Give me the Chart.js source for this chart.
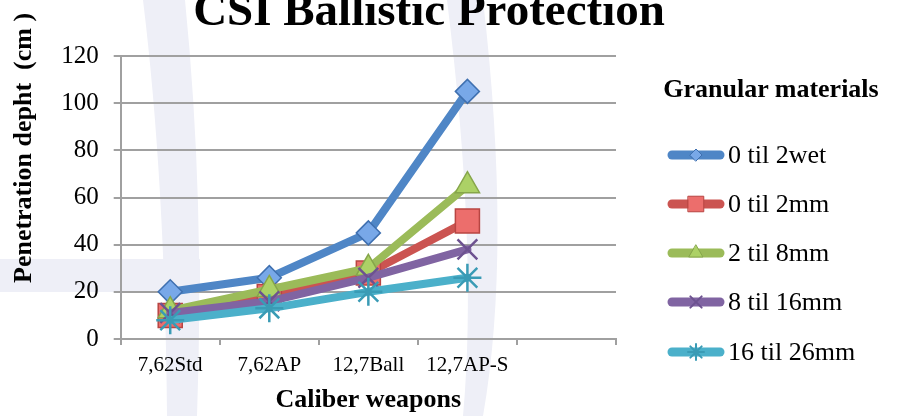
<!DOCTYPE html>
<html lang="en">
<head>
<meta charset="UTF-8">
<title>CSI Ballistic Protection</title>
<script src="https://cdn.jsdelivr.net/npm/chart.js"></script>
<style>
  body { margin: 0; background: #fff; }
  .wrap { position: relative; width: 898px; height: 416px; overflow: hidden; }
  #chart { position: absolute; left: 0; top: 0; }
  .lg-title { position: absolute; left: 640px; width: 262px; top: 74px; text-align: center;
    font: bold 26px "Liberation Serif", serif; color: #000; }
  .lg-item { position: absolute; left: 666px; height: 28px; display: flex; align-items: center;
    font: 26px "Liberation Serif", serif; color: #000; white-space: nowrap; }
  .lg-item canvas { margin-right: 2px; }
</style>
</head>
<body>
<div class="wrap">
  <canvas id="chart" width="898" height="416"></canvas>
  <div class="lg-title">Granular materials</div>
  <div id="legend"></div>
</div>

<script>
  // data
  const categories = ['7,62Std', '7,62AP', '12,7Ball', '12,7AP-S', ''];
  const seriesNames = ['0 til 2wet', '0 til 2mm', '2 til 8mm', '8 til 16mm', '16 til 26mm'];
  const wet0to2 = [20, 26, 45, 105];
  const mm0to2 = [10, 18, 28, 50];
  const mm2to8 = [12, 21, 30, 65];
  const mm8to16 = [11, 16, 26, 38];
  const mm16to26 = [8, 13, 20, 26];
  const yTicks = [0, 20, 40, 60, 80, 100, 120];

  const seriesValues = [wet0to2, mm0to2, mm2to8, mm8to16, mm16to26];

  const serif = '"Liberation Serif", "Times New Roman", serif';
  const lineColors = ['#4f86c6', '#cb5451', '#9bbb59', '#8064a2', '#4bb0ca'];
  const markerFill = ['#78a8e8', '#ec6e6c', '#acd166', '#8064a2', '#4bb0ca'];
  const markerEdge = ['#3f70b0', '#b84542', '#86a64a', '#6d5290', '#3a9bb5'];
  const markerStyle = ['rectRot', 'rect', 'triangle', 'crossRot', 'star'];
  const markerRadius = [12, 17, 14, 14, 14];
  const markerBorder = [1.5, 1.5, 1.5, 2.5, 2.5];

  const datasets = seriesNames.map((name, i) => ({
    label: name,
    data: seriesValues[i],
    borderColor: lineColors[i],
    borderWidth: 8,
    borderCapStyle: 'round',
    borderJoinStyle: 'round',
    tension: 0,
    pointStyle: markerStyle[i],
    pointRadius: markerRadius[i],
    pointBackgroundColor: markerFill[i],
    pointBorderColor: markerEdge[i],
    pointBorderWidth: markerBorder[i],
    order: seriesNames.length - i
  }));

  // faint watermark behind the plot
  const watermark = {
    id: 'watermark',
    beforeDraw(chart) {
      const c = chart.ctx;
      c.save();
      c.fillStyle = '#eeeff7';
      c.beginPath();
      c.moveTo(143, 0);
      c.quadraticCurveTo(165, 180, 167, 416);
      c.lineTo(197, 416);
      c.quadraticCurveTo(205, 200, 185, 0);
      c.closePath();
      c.fill();
      c.beginPath();
      c.moveTo(447, 0);
      c.quadraticCurveTo(478, 250, 463, 416);
      c.lineTo(483, 416);
      c.quadraticCurveTo(512, 250, 483, 0);
      c.closePath();
      c.fill();
      c.fillRect(0, 259, 200, 33);
      c.restore();
    }
  };

  // chart title and y axis title are off-centre in the original, so draw them here
  const titles = {
    id: 'titles',
    afterDraw(chart) {
      const c = chart.ctx;
      c.save();
      c.fillStyle = '#000';
      c.font = 'bold 47px ' + serif;
      c.textAlign = 'center';
      c.textBaseline = 'alphabetic';
      c.fillText('CSI Ballistic Protection', 429, 25);
      c.translate(31, 283);
      c.rotate(-Math.PI / 2);
      c.font = 'bold 26px ' + serif;
      c.textAlign = 'left';
      c.fillText('Penetration depht  (cm )', 0, 0);
      c.restore();
    }
  };

  const ctx = document.getElementById('chart').getContext('2d');
  new Chart(ctx, {
    type: 'line',
    data: { labels: categories, datasets: datasets },
    plugins: [watermark, titles],
    options: {
      responsive: false,
      animation: false,
      layout: { padding: { left: 0, right: 282, top: 56, bottom: 0 } },
      plugins: {
        legend: { display: false },
        tooltip: { enabled: false },
        title: { display: false }
      },
      scales: {
        x: {
          offset: true,
          grid: { drawOnChartArea: false, offset: true, tickLength: 6, color: '#a0a0a0', lineWidth: 2 },
          border: { color: '#a0a0a0', width: 2 },
          ticks: { font: { family: serif, size: 21 }, color: '#000', padding: 8, maxRotation: 0, autoSkip: false },
          title: {
            display: true, text: 'Caliber weapons', color: '#000',
            font: { family: serif, size: 26, weight: 'bold', lineHeight: 1.2 },
            padding: { top: 0, bottom: 0 }
          },
          afterFit(s) { s.height = 77; }
        },
        y: {
          min: 0, max: 120,
          afterBuildTicks(s) { s.ticks = yTicks.map(v => ({ value: v })); },
          grid: { color: '#a0a0a0', lineWidth: 2, tickLength: 7 },
          border: { color: '#a0a0a0', width: 2 },
          ticks: { font: { family: serif, size: 25 }, color: '#000', padding: 15 },
          afterFit(s) { s.width = 120.7; }
        }
      }
    }
  });

  // legend: line + marker icons
  const legendCenters = [155, 204, 253, 302, 352];
  const legendRadius = [6, 11, 8, 8, 8];
  const legend = document.getElementById('legend');
  seriesNames.forEach((name, i) => {
    const item = document.createElement('div');
    item.className = 'lg-item';
    item.style.top = (legendCenters[i] - 14) + 'px';
    const icon = document.createElement('canvas');
    icon.width = 60; icon.height = 28;
    const ic = icon.getContext('2d');
    ic.strokeStyle = lineColors[i];
    ic.lineWidth = 9;
    ic.lineCap = 'round';
    ic.beginPath(); ic.moveTo(6, 14); ic.lineTo(54, 14); ic.stroke();
    if (Chart.helpers && Chart.helpers.drawPoint) {
      ic.fillStyle = markerFill[i];
      ic.strokeStyle = markerEdge[i];
      ic.lineWidth = markerBorder[i] - 0.5;
      Chart.helpers.drawPoint(ic, { pointStyle: markerStyle[i], radius: legendRadius[i], borderWidth: markerBorder[i], rotation: 0 }, 30, 14);
    }
    item.appendChild(icon);
    item.appendChild(document.createTextNode(name));
    legend.appendChild(item);
  });
</script>
</body>
</html>
